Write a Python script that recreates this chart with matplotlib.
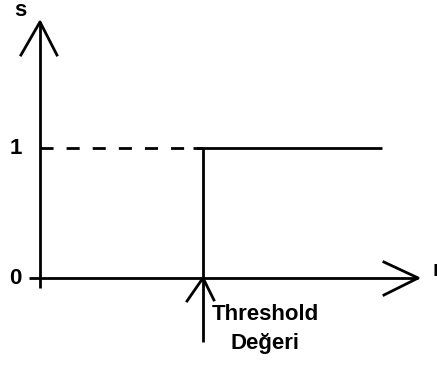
import matplotlib
matplotlib.use("Agg")
import matplotlib.pyplot as plt

# step (threshold) function data
threshold = 1.0
levels = [0, 1]
step_end = 2.1
tick_labels = ["0", "1"]
axis_labels = ["s", "r"]
threshold_label = "Threshold\nDeğeri"

# axis extents
y_axis = ([0, 0], [-0.08, 1.97])
x_axis = ([-0.07, 2.32], [0, 0])

fig = plt.figure(figsize=(4.37, 3.65), dpi=100)
ax = fig.add_axes([0, 0, 1, 1])
ax.set_xlim(-0.2454, 2.4356)
ax.set_ylim(-0.6692, 2.1385)
ax.axis("off")

lw = 2.0
font = dict(family="Liberation Sans", weight="bold", size=16)

# axes
ax.plot(*y_axis, color="black", lw=lw, solid_capstyle="butt")
ax.plot(*x_axis, color="black", lw=lw, solid_capstyle="butt")

# open arrow heads
ax.plot([-0.117, 0, 0.104], [1.715, 1.97, 1.715], color="black", lw=lw)
ax.plot([2.11, 2.32, 2.11], [0.123, 0, -0.131], color="black", lw=lw)

# dashed level up to threshold, then solid step
ax.plot([0, threshold], [levels[1], levels[1]], color="black", lw=lw,
        dashes=(4.7, 4.7), dash_capstyle="butt")
ax.plot([threshold - 0.06, step_end], [levels[1], levels[1]], color="black",
        lw=lw, solid_capstyle="butt")
ax.plot([threshold, threshold], [levels[1], -0.49], color="black", lw=lw,
        solid_capstyle="butt")

# threshold arrow
ax.plot([0.902, threshold, 1.067], [-0.177, 0, -0.169], color="black", lw=lw)

# texts
for lv, lab in zip(levels, tick_labels):
    ax.text(-0.15, lv, lab, ha="center", va="center", **font)
ax.text(-0.12, 2.06, axis_labels[0], ha="center", va="center", **font)
ax.text(2.41, 0.06, axis_labels[1], ha="left", va="center", **font)
ax.text(1.38, -0.39, threshold_label, ha="center", va="center",
        linespacing=1.5, **font)

fig.savefig("out.png", dpi=100)
